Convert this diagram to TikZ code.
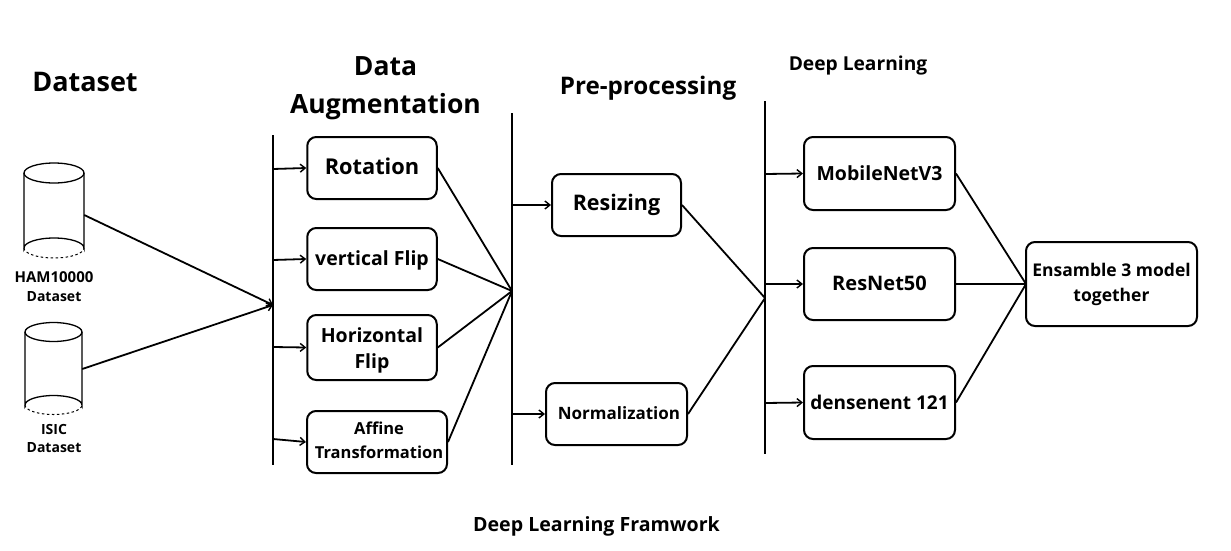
\documentclass[tikz,border=0pt]{standalone}
\usepackage{fontspec}
\setmainfont{Open Sans}[BoldFont={Open Sans Bold}]
\usetikzlibrary{arrows.meta}
\newcommand{\fs}[2]{\fontsize{#1}{#2}\selectfont}
\tikzset{
  x=1pt,y=-1pt,
  bx/.style={draw=black,line width=2pt,rounded corners=9pt,inner sep=0pt,align=center,fill=white},
  lbl/.style={inner sep=0pt,align=center},
  bus/.style={line width=2pt,draw=black},
  link/.style={line width=1.8pt,draw=black},
  arr/.style={line width=1.8pt,draw=black,-{Straight Barb[length=5pt,width=8pt,line width=1.4pt]}},
  cyl/.style={line width=1.3pt,draw=black},
  cyld/.style={line width=1pt,draw=black,dash pattern=on 2.5pt off 2.5pt}
}
\newcommand{\bxnode}[7]{\node[bx,minimum width=#3 pt,minimum height=#4 pt,#7] (#1) at (#5,#6) {#2};}
\begin{document}
\begin{tikzpicture}
\useasboundingbox (0,0) rectangle (1231,551);
% titles
\node[lbl,font=\bfseries\fs{27}{38}] (tds) at (85,82) {Dataset};
\node[lbl,font=\bfseries\fs{26.5}{38}] (tda) at (385.5,88) {Data\\Augmentation};
\node[lbl,font=\bfseries\fs{24.2}{28}] (tpp) at (648,88) {Pre-processing};
\node[lbl,font=\bfseries\fs{19.2}{24}] (tdl) at (858,66) {Deep Learning};
\node[lbl,font=\bfseries\fs{19.6}{23}] (tfw) at (596.5,526) {Deep Learning Framwork};
% buses
\coordinate (b1t) at (273,135); \coordinate (b1b) at (273,465);
\coordinate (b2t) at (512,113); \coordinate (b2b) at (512,465);
\coordinate (b3t) at (765,101); \coordinate (b3b) at (765,454);
\draw[bus] (b1t)--(b1b); \draw[bus] (b2t)--(b2b); \draw[bus] (b3t)--(b3b);
% cylinders
\node[inner sep=0pt,minimum width=60pt,minimum height=95pt] (c1) at (54,210.5) {};
\node[inner sep=0pt,minimum width=57pt,minimum height=91pt] (c2) at (53.5,368.5) {};
\draw[cyl] (54,173) ellipse[x radius=30,y radius=10];
\draw[cyl] (24,173)--(24,248) arc[start angle=180,end angle=360,x radius=30,y radius=10]--(84,173);
\draw[cyld] (24,248) arc[start angle=180,end angle=0,x radius=30,y radius=10];
\draw[cyl] (53.5,332) ellipse[x radius=28.5,y radius=9.5];
\draw[cyl] (25,332)--(25,405) arc[start angle=180,end angle=360,x radius=28.5,y radius=9.5]--(82,332);
\draw[cyld] (25,405) arc[start angle=180,end angle=0,x radius=28.5,y radius=9.5];
\node[lbl,font=\bfseries\fs{14}{19}] (l1) at (54,286.5) {{\fs{15}{19}HAM10000}\\Dataset};
\node[lbl,font=\bfseries\fs{14}{18}] (l2) at (54,438.5) {ISIC\\Dataset};
% boxes
\bxnode{rot}{\raisebox{3pt}{Rotation}}{129.5}{62}{372}{168}{font=\bfseries\fs{21.8}{25}}
\bxnode{vf}{\rule{0pt}{17pt}vertical Flip}{129.5}{62}{372}{259}{font=\bfseries\fs{19.5}{24}}
\bxnode{hf}{\rule{0pt}{20pt}Horizontal\\Flip}{129.5}{65}{372}{347.5}{font=\bfseries\fs{19.5}{26}}
\bxnode{af}{\raisebox{3pt}{\hspace*{4pt}Affine}\\\raisebox{3pt}{\hspace*{4pt}Transformation}}{140}{62}{377}{442}{font=\bfseries\fs{16.5}{24}}
\bxnode{rs}{Resizing}{129}{62}{616.5}{205}{font=\bfseries\fs{21.5}{25}}
\bxnode{nm}{\raisebox{1pt}{\hspace*{5pt}Normalization}}{141}{62}{616.5}{414}{font=\bfseries\fs{17}{22}}
\bxnode{mb}{MobileNetV3}{151}{73}{879.5}{173.5}{font=\bfseries\fs{19.5}{24}}
\bxnode{rn}{\raisebox{1pt}{ResNet50}}{151}{72}{879.5}{284}{font=\bfseries\fs{20}{24}}
\bxnode{dn}{densenent 121}{151}{73}{879.5}{402.5}{font=\bfseries\fs{19}{24}}
\bxnode{en}{Ensamble 3 model\\together}{171}{84}{1111.5}{284}{font=\bfseries\fs{17.5}{25}}
% junctions
\coordinate (j1) at (273,305);
\coordinate (j2) at (512,291);
\coordinate (j3) at (765,298);
\coordinate (j4) at (1026,284);
% feeders
\coordinate (s1) at (273,169); \coordinate (s2) at (273,260); \coordinate (s3) at (273,347); \coordinate (s4) at (273,439);
\coordinate (s5) at (512,205); \coordinate (s6) at (512,414);
\coordinate (s7) at (765,174); \coordinate (s8) at (765,284); \coordinate (s9) at (765,403);
\draw[arr] (c1.east |- 0,215) -- (j1);
\draw[arr] (c2.east |- 0,369) -- (j1);
\draw[arr] (s1) -- (rot.west);
\draw[arr] (s2) -- (vf.west);
\draw[arr] (s3) -- (hf.west);
\draw[arr] (s4) -- (af.west);
\draw[link] (rot.east) -- (j2);
\draw[link] (vf.east) -- (j2);
\draw[link] (hf.east) -- (j2);
\draw[link] (af.east) -- (j2);
\draw[arr] (s5) -- (rs.west);
\draw[arr] (s6) -- (nm.west);
\draw[link] (rs.east) -- (j3);
\draw[link] (nm.east) -- (j3);
\draw[arr] (s7) -- (mb.west);
\draw[arr] (s8) -- (rn.west);
\draw[arr] (s9) -- (dn.west);
\draw[link] (mb.east) -- (j4);
\draw[link] (rn.east) -- (j4);
\draw[link] (dn.east) -- (j4);
\end{tikzpicture}
\end{document}
